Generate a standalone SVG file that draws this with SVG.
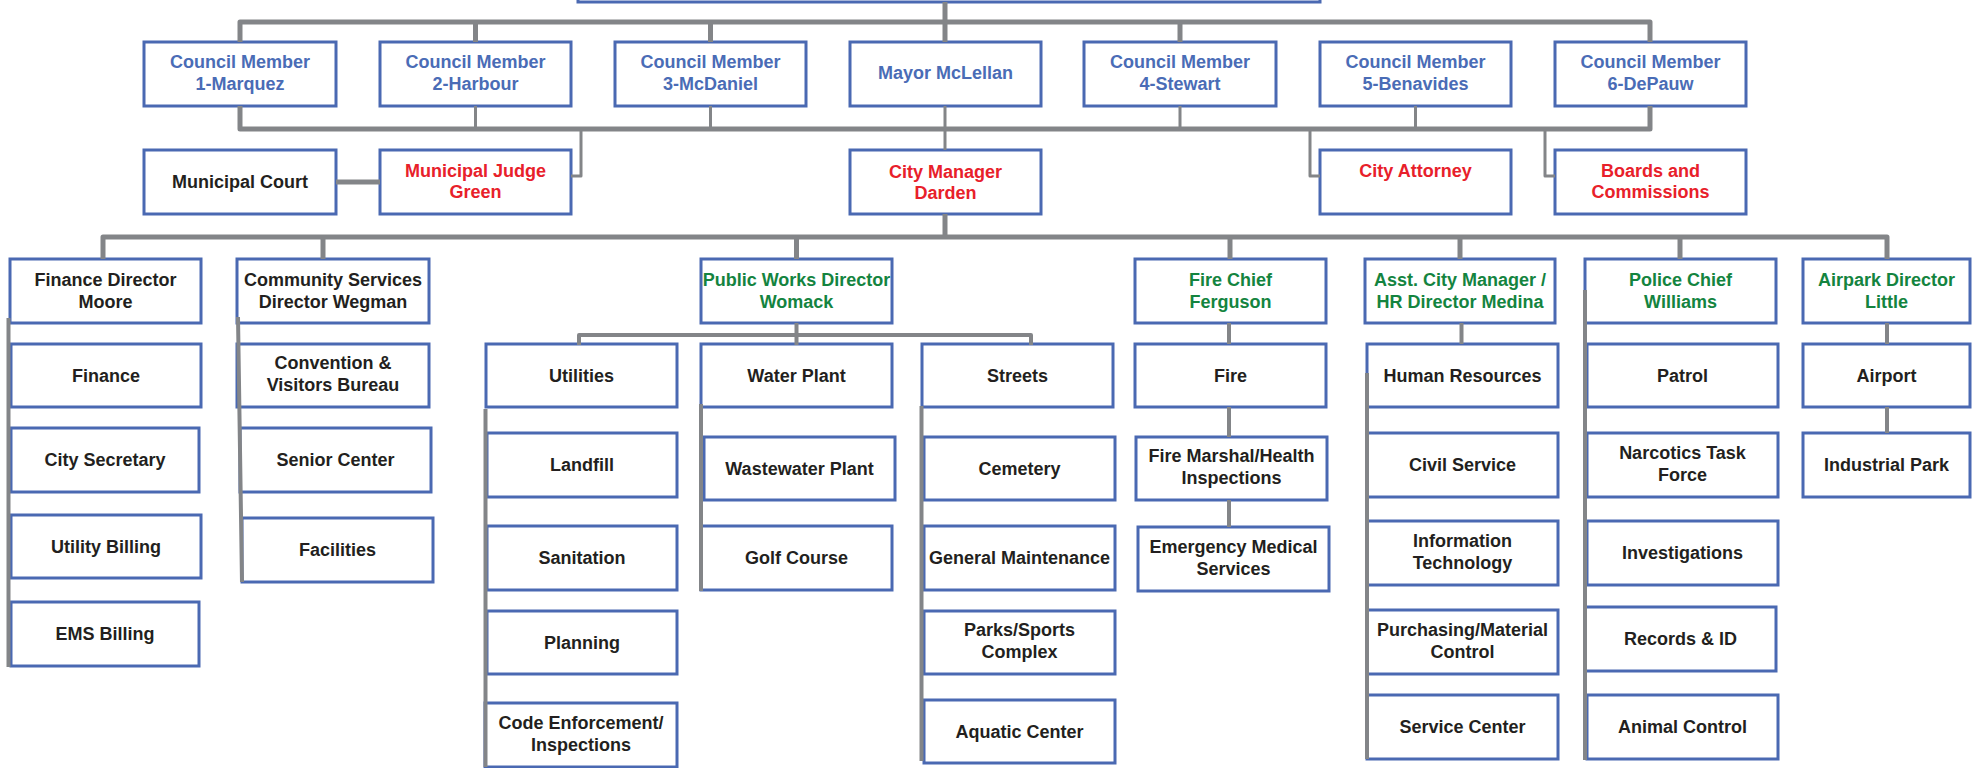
<svg xmlns="http://www.w3.org/2000/svg" width="1973" height="768" viewBox="0 0 1973 768">
<style>
.box{fill:#fff;stroke:#4A69B2;stroke-width:3}
.t{font-family:"Liberation Sans",Arial,sans-serif;font-weight:bold;font-size:18px;text-anchor:middle}
.bl{fill:#4A6CB6}.rd{fill:#E8202A}.gr{fill:#14843F}.bk{fill:#231F20}
.c{fill:none;stroke:#838588;stroke-width:5;stroke-linejoin:round}
.n{stroke-width:3}.m{stroke-width:4}
</style>
<rect width="1973" height="768" fill="#fff"/>
<g id="top"><rect class="box" x="578" y="-40" width="742" height="42"/></g>
<g id="cm1"><rect class="box" x="144" y="42" width="192" height="64"/><text class="t bl" x="240" y="68">Council Member</text><text class="t bl" x="240" y="90">1-Marquez</text></g>
<g id="cm2"><rect class="box" x="380" y="42" width="191" height="64"/><text class="t bl" x="475.5" y="68">Council Member</text><text class="t bl" x="475.5" y="90">2-Harbour</text></g>
<g id="cm3"><rect class="box" x="615" y="42" width="191" height="64"/><text class="t bl" x="710.5" y="68">Council Member</text><text class="t bl" x="710.5" y="90">3-McDaniel</text></g>
<g id="mayor"><rect class="box" x="850" y="42" width="191" height="64"/><text class="t bl" x="945.5" y="79">Mayor McLellan</text></g>
<g id="cm4"><rect class="box" x="1084" y="42" width="192" height="64"/><text class="t bl" x="1180" y="68">Council Member</text><text class="t bl" x="1180" y="90">4-Stewart</text></g>
<g id="cm5"><rect class="box" x="1320" y="42" width="191" height="64"/><text class="t bl" x="1415.5" y="68">Council Member</text><text class="t bl" x="1415.5" y="90">5-Benavides</text></g>
<g id="cm6"><rect class="box" x="1555" y="42" width="191" height="64"/><text class="t bl" x="1650.5" y="68">Council Member</text><text class="t bl" x="1650.5" y="90">6-DePauw</text></g>
<g id="court"><rect class="box" x="144" y="150" width="192" height="64"/><text class="t bk" x="240" y="188">Municipal Court</text></g>
<g id="judge"><rect class="box" x="380" y="150" width="191" height="64"/><text class="t rd" x="475.5" y="177">Municipal Judge</text><text class="t rd" x="475.5" y="198">Green</text></g>
<g id="citymgr"><rect class="box" x="850" y="150" width="191" height="64"/><text class="t rd" x="945.5" y="178">City Manager</text><text class="t rd" x="945.5" y="199">Darden</text></g>
<g id="attorney"><rect class="box" x="1320" y="150" width="191" height="64"/><text class="t rd" x="1415.5" y="177">City Attorney</text></g>
<g id="boards"><rect class="box" x="1555" y="150" width="191" height="64"/><text class="t rd" x="1650.5" y="177">Boards and</text><text class="t rd" x="1650.5" y="198">Commissions</text></g>
<g id="findir"><rect class="box" x="10" y="259" width="191" height="64"/><text class="t bk" x="105.5" y="286">Finance Director</text><text class="t bk" x="105.5" y="308">Moore</text></g>
<g id="comdir"><rect class="box" x="237" y="259" width="192" height="64"/><text class="t bk" x="333" y="286">Community Services</text><text class="t bk" x="333" y="308">Director Wegman</text></g>
<g id="pwdir"><rect class="box" x="701" y="259" width="191" height="64"/><text class="t gr" x="796.5" y="286">Public Works Director</text><text class="t gr" x="796.5" y="308">Womack</text></g>
<g id="firechief"><rect class="box" x="1135" y="259" width="191" height="64"/><text class="t gr" x="1230.5" y="286">Fire Chief</text><text class="t gr" x="1230.5" y="308">Ferguson</text></g>
<g id="asstmgr"><rect class="box" x="1365" y="259" width="190" height="64"/><text class="t gr" x="1460" y="286">Asst. City Manager /</text><text class="t gr" x="1460" y="308">HR Director Medina</text></g>
<g id="police"><rect class="box" x="1585" y="259" width="191" height="64"/><text class="t gr" x="1680.5" y="286">Police Chief</text><text class="t gr" x="1680.5" y="308">Williams</text></g>
<g id="airpark"><rect class="box" x="1803" y="259" width="167" height="64"/><text class="t gr" x="1886.5" y="286">Airpark Director</text><text class="t gr" x="1886.5" y="308">Little</text></g>
<g id="finance"><rect class="box" x="11" y="344" width="190" height="63"/><text class="t bk" x="106" y="382">Finance</text></g>
<g id="citysec"><rect class="box" x="11" y="428" width="188" height="64"/><text class="t bk" x="105" y="466">City Secretary</text></g>
<g id="utilbill"><rect class="box" x="11" y="515" width="190" height="63"/><text class="t bk" x="106" y="553">Utility Billing</text></g>
<g id="emsbill"><rect class="box" x="11" y="602" width="188" height="64"/><text class="t bk" x="105" y="640">EMS Billing</text></g>
<g id="cvb"><rect class="box" x="237" y="344" width="192" height="63"/><text class="t bk" x="333" y="369">Convention &amp;</text><text class="t bk" x="333" y="391">Visitors Bureau</text></g>
<g id="senior"><rect class="box" x="240" y="428" width="191" height="64"/><text class="t bk" x="335.5" y="466">Senior Center</text></g>
<g id="facilities"><rect class="box" x="242" y="518" width="191" height="64"/><text class="t bk" x="337.5" y="556">Facilities</text></g>
<g id="utilities"><rect class="box" x="486" y="344" width="191" height="63"/><text class="t bk" x="581.5" y="382">Utilities</text></g>
<g id="landfill"><rect class="box" x="487" y="433" width="190" height="64"/><text class="t bk" x="582" y="471">Landfill</text></g>
<g id="sanitation"><rect class="box" x="487" y="526" width="190" height="64"/><text class="t bk" x="582" y="564">Sanitation</text></g>
<g id="planning"><rect class="box" x="487" y="611" width="190" height="63"/><text class="t bk" x="582" y="649">Planning</text></g>
<g id="codeenf"><rect class="box" x="485" y="703" width="192" height="64"/><text class="t bk" x="581" y="729">Code Enforcement/</text><text class="t bk" x="581" y="751">Inspections</text></g>
<g id="water"><rect class="box" x="701" y="344" width="191" height="63"/><text class="t bk" x="796.5" y="382">Water Plant</text></g>
<g id="wastewater"><rect class="box" x="704" y="437" width="191" height="63"/><text class="t bk" x="799.5" y="475">Wastewater Plant</text></g>
<g id="golf"><rect class="box" x="701" y="526" width="191" height="64"/><text class="t bk" x="796.5" y="564">Golf Course</text></g>
<g id="streets"><rect class="box" x="922" y="344" width="191" height="63"/><text class="t bk" x="1017.5" y="382">Streets</text></g>
<g id="cemetery"><rect class="box" x="924" y="437" width="191" height="63"/><text class="t bk" x="1019.5" y="475">Cemetery</text></g>
<g id="genmaint"><rect class="box" x="924" y="526" width="191" height="64"/><text class="t bk" x="1019.5" y="564">General Maintenance</text></g>
<g id="parks"><rect class="box" x="924" y="611" width="191" height="63"/><text class="t bk" x="1019.5" y="636">Parks/Sports</text><text class="t bk" x="1019.5" y="658">Complex</text></g>
<g id="aquatic"><rect class="box" x="924" y="700" width="191" height="63"/><text class="t bk" x="1019.5" y="738">Aquatic Center</text></g>
<g id="fire"><rect class="box" x="1135" y="344" width="191" height="63"/><text class="t bk" x="1230.5" y="382">Fire</text></g>
<g id="marshal"><rect class="box" x="1136" y="437" width="191" height="63"/><text class="t bk" x="1231.5" y="462">Fire Marshal/Health</text><text class="t bk" x="1231.5" y="484">Inspections</text></g>
<g id="ems"><rect class="box" x="1138" y="527" width="191" height="64"/><text class="t bk" x="1233.5" y="553">Emergency Medical</text><text class="t bk" x="1233.5" y="575">Services</text></g>
<g id="hr"><rect class="box" x="1367" y="344" width="191" height="63"/><text class="t bk" x="1462.5" y="382">Human Resources</text></g>
<g id="civil"><rect class="box" x="1367" y="433" width="191" height="64"/><text class="t bk" x="1462.5" y="471">Civil Service</text></g>
<g id="it"><rect class="box" x="1367" y="521" width="191" height="64"/><text class="t bk" x="1462.5" y="547">Information</text><text class="t bk" x="1462.5" y="569">Technology</text></g>
<g id="purch"><rect class="box" x="1367" y="610" width="191" height="64"/><text class="t bk" x="1462.5" y="636">Purchasing/Material</text><text class="t bk" x="1462.5" y="658">Control</text></g>
<g id="service"><rect class="box" x="1367" y="695" width="191" height="64"/><text class="t bk" x="1462.5" y="733">Service Center</text></g>
<g id="patrol"><rect class="box" x="1587" y="344" width="191" height="63"/><text class="t bk" x="1682.5" y="382">Patrol</text></g>
<g id="narcotics"><rect class="box" x="1587" y="433" width="191" height="64"/><text class="t bk" x="1682.5" y="459">Narcotics Task</text><text class="t bk" x="1682.5" y="481">Force</text></g>
<g id="invest"><rect class="box" x="1587" y="521" width="191" height="64"/><text class="t bk" x="1682.5" y="559">Investigations</text></g>
<g id="records"><rect class="box" x="1585" y="607" width="191" height="64"/><text class="t bk" x="1680.5" y="645">Records &amp; ID</text></g>
<g id="animal"><rect class="box" x="1587" y="695" width="191" height="64"/><text class="t bk" x="1682.5" y="733">Animal Control</text></g>
<g id="airport"><rect class="box" x="1803" y="344" width="167" height="63"/><text class="t bk" x="1886.5" y="382">Airport</text></g>
<g id="indpark"><rect class="box" x="1803" y="433" width="167" height="64"/><text class="t bk" x="1886.5" y="471">Industrial Park</text></g>
<g id="connectors">
<path class="c" d="M240,42 V22 H1650 V42 M945,2 V42 M475.5,22 V42 M710.5,22 V42 M1180,22 V42"/>
<path class="c" d="M240,106 V129 H1650 V106"/>
<path class="c n" d="M475.5,106 V129 M710.5,106 V129 M1180,106 V129 M1415.5,106 V129 M945,106 V150"/>
<path class="c n" d="M581,129 V176 H571 M1310,129 V176 H1320 M1545,129 V176 H1555"/>
<path class="c" d="M336,182 H380 M945,214 V237"/>
<path class="c" d="M103,259 V237 H1887 V259 M323,237 V259 M796.5,237 V259 M1230,237 V259 M1460,237 V259 M1680,237 V259"/>
<path class="c m" d="M8.5,318 V667 M238,317 L242,582"/>
<path class="c m" d="M796.5,323 V345 M579,345 V335 H1031 V345 M485.5,409 V767 M701,404 V591 M921.5,406 V761"/>
<path class="c m" d="M1229,323 V344 M1229,407 V437 M1229,500 V527"/>
<path class="c m" d="M1461.5,323 V344 M1367,373 V759 M1585,290 V760"/>
<path class="c m" d="M1887,323 V344 M1887,407 V433"/>
</g>
</svg>
